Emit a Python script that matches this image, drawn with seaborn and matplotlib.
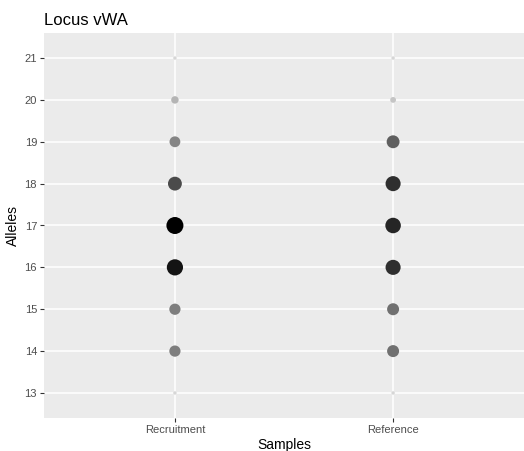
import pandas as pd
import matplotlib.pyplot as plt
import seaborn as sns
from matplotlib.colors import LinearSegmentedColormap

alleles = [13, 14, 15, 16, 17, 18, 19, 20, 21]
recruitment_counts = [1, 27, 27, 58, 64, 42, 25, 11, 1]
reference_counts = [1, 31, 31, 50, 53, 50, 36, 6, 1]
samples = ["Recruitment", "Reference"]

df = pd.DataFrame({
    "Samples": [samples[0]] * len(alleles) + [samples[1]] * len(alleles),
    "Alleles": [str(a) for a in alleles] * 2,
    "Count": recruitment_counts + reference_counts,
})

sns.set_style("darkgrid", {"axes.facecolor": "#EBEBEB", "grid.color": "white"})
plt.rcParams["font.family"] = ["Liberation Sans", "DejaVu Sans"]

fig = plt.figure(figsize=(5.24, 4.51), dpi=100)
ax = fig.add_axes([0.084, 0.073, 0.916, 0.854])

grey_cmap = LinearSegmentedColormap.from_list("greys", ["#D6D6D6", "#000000"])

sns.scatterplot(data=df, x="Samples", y="Alleles", hue="Count", size="Count",
                palette=grey_cmap, hue_norm=(1, 64), sizes=(6, 150), size_norm=(1, 64),
                linewidth=0, legend=False, ax=ax, zorder=3)

ax.set_xlim(-0.6, 1.6)
ax.set_ylim(-0.6, len(alleles) - 0.4)
ax.set_yticks(range(len(alleles)))
ax.set_yticklabels([str(a) for a in alleles])

ax.grid(True, color="white", linewidth=1.1)
for s in ax.spines.values():
    s.set_visible(False)
ax.tick_params(axis="both", length=3, width=0.8, color="#333333",
               labelcolor="#4D4D4D", labelsize=8, pad=2, bottom=True, left=True)

ax.set_xlabel("Samples", fontsize=10, color="black", labelpad=2)
ax.set_ylabel("Alleles", fontsize=10, color="black", labelpad=3)
ax.set_title("Locus vWA", loc="left", fontsize=12, color="black", pad=6)

fig.savefig("out.png", dpi=100)
